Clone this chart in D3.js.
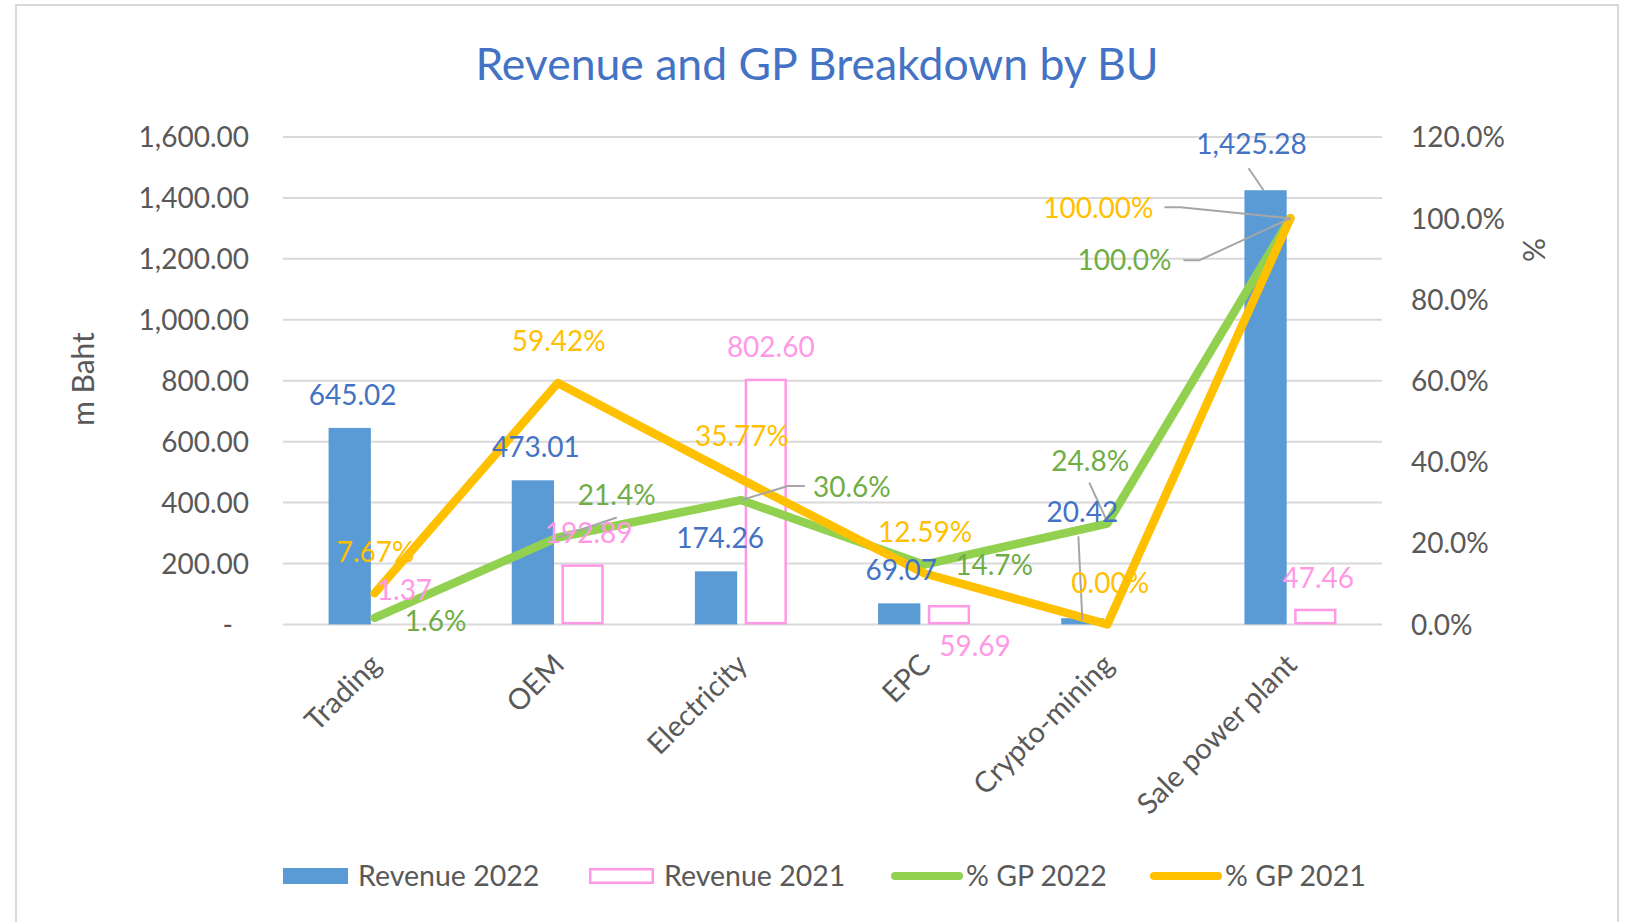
<!DOCTYPE html>
<html>
<head>
<meta charset="utf-8">
<script src="https://cdn.jsdelivr.net/npm/d3@7"></script>
<style>
  html, body { margin: 0; padding: 0; background: #ffffff; }
  svg { display: block; }
  text { font-family: Lato, "Open Sans", sans-serif; }
</style>
</head>
<body>
<svg id="chart" width="1629" height="922"></svg>
<script>
// ---------------- data ----------------
const categories = ["Trading", "OEM", "Electricity", "EPC", "Crypto-mining", "Sale power plant"];
const revenue2022 = [645.02, 473.01, 174.26, 69.07, 20.42, 1425.28];
const revenue2021 = [1.37, 192.89, 802.60, 59.69, null, 47.46];
const gp2022 = [1.6, 21.4, 30.6, 14.7, 24.8, 100.0];
const gp2021 = [7.67, 59.42, 35.77, 12.59, 0.00, 100.00];
const leftTicks = [0, 200, 400, 600, 800, 1000, 1200, 1400, 1600];
const rightTicks = [0, 20, 40, 60, 80, 100, 120];
const seriesNames = ["Revenue 2022", "Revenue 2021", "% GP 2022", "% GP 2021"];
const titleText = "Revenue and GP Breakdown by BU";

// ---------------- layout / style ----------------
const W = 1629, H = 922;
const plot = { left: 283, right: 1382, top: 137, bottom: 624.4 };
const C = {
  blue: "#5B9BD5", blueText: "#4472C4", pink: "#FF99E6", pinkText: "#FF99E6",
  green: "#92D050", greenText: "#70AD47", orange: "#FFC000", orangeText: "#FFC000",
  axis: "#595959", grid: "#D9D9D9", leader: "#A6A6A6", title: "#4472C4"
};
// label offsets (label centre relative to the mark anchor)
const lblR22 = [[3,-33],[3,-33],[4,-33],[2,-33],[0,-106],[-14,-46]];
const lblR21 = [[5,-34],[6,-32],[5,-33],[26,40],[0,0],[3,-32]];
const lblG22 = [[61,3],[59,-42],[111,-13],[70,1],[-17,-62],[-166,42]];
const lblG21 = [[1,-41],[1,-42],[1,-43],[1,-41],[3,-41],[-192,-10]];

const svg = d3.select("#chart");

// frame
svg.append("rect").attr("x", 16).attr("y", 5).attr("width", 1602).attr("height", 940)
  .attr("fill", "#fff").attr("stroke", "#D9D9D9").attr("stroke-width", 2);

// scales
const x = d3.scaleBand().domain(categories).range([plot.left, plot.right]).paddingInner(0).paddingOuter(0);
const xSub = d3.scaleBand().domain(["r22", "r21"]).range([-46, 46]).paddingInner(0.15).paddingOuter(0);
const yL = d3.scaleLinear().domain([0, 1600]).range([plot.bottom, plot.top]);
const yR = d3.scaleLinear().domain([0, 120]).range([plot.bottom, plot.top]);
const cx = c => x(c) + x.bandwidth() / 2;

// gridlines
svg.append("g").selectAll("line").data(leftTicks).join("line")
  .attr("x1", plot.left).attr("x2", plot.right)
  .attr("y1", d => yL(d)).attr("y2", d => yL(d))
  .attr("stroke", C.grid).attr("stroke-width", 2);

// left axis
const fmtL = d => d === 0 ? "-" : d3.format(",.2f")(d);
const leftAxis = d3.axisLeft(yL).tickValues(leftTicks).tickFormat(fmtL).tickSize(0).tickPadding(0);
const gL = svg.append("g").attr("transform", `translate(249,0)`).call(leftAxis);
gL.select(".domain").remove();
gL.selectAll("text").attr("font-size", 28).attr("fill", C.axis).attr("dy", "0.35em")
  .attr("font-family", "Lato, sans-serif")
  .attr("dx", d => d === 0 ? -16 : 0);

// right axis
const rightAxis = d3.axisRight(yR).tickValues(rightTicks).tickFormat(d => d.toFixed(1) + "%").tickSize(0).tickPadding(0);
const gR = svg.append("g").attr("transform", `translate(1411,0)`).call(rightAxis);
gR.select(".domain").remove();
gR.selectAll("text").attr("font-size", 28).attr("fill", C.axis).attr("dy", "0.35em")
  .attr("font-family", "Lato, sans-serif");

// category axis
const gX = svg.append("g");
gX.selectAll("text").data(categories).join("text")
  .attr("transform", d => `translate(${cx(d) + 1},${plot.bottom + 35}) rotate(-45)`)
  .attr("text-anchor", "end").attr("dy", "0.35em")
  .attr("font-size", 29).attr("fill", C.axis)
  .text(d => d);

// axis titles
svg.append("text").attr("transform", "translate(83,379) rotate(-90)")
  .attr("text-anchor", "middle").attr("dy", "0.35em")
  .attr("font-size", 30).attr("fill", C.axis).text("m Baht");
svg.append("text").attr("transform", "translate(1533,250) rotate(90)")
  .attr("text-anchor", "middle").attr("dy", "0.35em")
  .attr("font-size", 30).attr("fill", C.axis).text("%");

// title
svg.append("text").attr("x", 817).attr("y", 64).attr("text-anchor", "middle").attr("dy", "0.35em")
  .attr("font-size", 44.5).attr("fill", C.title).text(titleText);

// bars
const gBars = svg.append("g");
gBars.selectAll("rect.r22").data(categories).join("rect").attr("class", "r22")
  .attr("x", (c) => cx(c) + xSub("r22"))
  .attr("width", xSub.bandwidth())
  .attr("y", (c, i) => yL(revenue2022[i]))
  .attr("height", (c, i) => yL(0) - yL(revenue2022[i]))
  .attr("fill", C.blue);
gBars.selectAll("rect.r21").data(categories.filter((c, i) => revenue2021[i] != null)).join("rect").attr("class", "r21")
  .attr("x", c => cx(c) + xSub("r21") + 1.25)
  .attr("width", xSub.bandwidth() - 2.5)
  .attr("y", c => yL(revenue2021[categories.indexOf(c)]))
  .attr("height", c => Math.max(0, yL(0) - yL(revenue2021[categories.indexOf(c)]) - 1.25))
  .attr("fill", "#fff").attr("stroke", C.pink).attr("stroke-width", 2.5);

// lines
const lineGen = vals => d3.line().x((c) => cx(c)).y((c, i) => yR(vals[i]))(categories);
svg.append("path").attr("d", lineGen(gp2022)).attr("fill", "none")
  .attr("stroke", C.green).attr("stroke-width", 8.5).attr("stroke-linejoin", "round").attr("stroke-linecap", "round");
svg.append("path").attr("d", lineGen(gp2021)).attr("fill", "none")
  .attr("stroke", C.orange).attr("stroke-width", 8.5).attr("stroke-linejoin", "round").attr("stroke-linecap", "round");

// anchors
const aR22 = i => [cx(categories[i]) + xSub("r22") + xSub.bandwidth() / 2, yL(revenue2022[i])];
const aR21 = i => [cx(categories[i]) + xSub("r21") + xSub.bandwidth() / 2, yL(revenue2021[i] || 0)];
const aG22 = i => [cx(categories[i]), yR(gp2022[i])];
const aG21 = i => [cx(categories[i]), yR(gp2021[i])];

// leader lines
const gLead = svg.append("g");
function leader(anchor, off, pts, endAdj) {
  const lx = anchor[0] + off[0], ly = anchor[1] + off[1];
  const p = pts.map(q => [lx + q[0], ly + q[1]]);
  p.push([anchor[0] + (endAdj ? endAdj[0] : 0), anchor[1] + (endAdj ? endAdj[1] : 0)]);
  gLead.append("path").attr("d", d3.line()(p)).attr("fill", "none")
    .attr("stroke", C.leader).attr("stroke-width", 2);
}
leader(aR22(4), lblR22[4], [[-4, 24]], [0, 2]);
leader(aR22(5), lblR22[5], [[-3, 24]], [-2, 0]);
leader(aG22(1), lblG22[1], [[0, 22]], [0, 0]);
leader(aG22(2), lblG22[2], [[-47, -1], [-64, -1]], [0, 0]);
leader(aG22(4), lblG22[4], [[-1, 21]], [0, -2]);
leader(aG22(5), lblG22[5], [[59, 0], [75, 0]], [0, 0]);
leader(aG21(5), lblG21[5], [[66, -1], [82, -1]], [0, 0]);

// data labels
function labels(cls, vals, anchorFn, offs, fmt, color) {
  svg.append("g").selectAll("text").data(vals.map((v, i) => ({ v, i })).filter(d => d.v != null)).join("text")
    .attr("x", d => anchorFn(d.i)[0] + offs[d.i][0])
    .attr("y", d => anchorFn(d.i)[1] + offs[d.i][1])
    .attr("text-anchor", "middle").attr("dy", "0.35em")
    .attr("font-size", 28).attr("fill", color)
    .text(d => fmt(d.v));
}
labels("r22", revenue2022, aR22, lblR22, d3.format(",.2f"), C.blueText);
labels("r21", revenue2021, aR21, lblR21, d3.format(",.2f"), C.pinkText);
labels("g22", gp2022, aG22, lblG22, v => v.toFixed(1) + "%", C.greenText);
labels("g21", gp2021, aG21, lblG21, v => v.toFixed(2) + "%", C.orangeText);

// legend
const legendItems = [
  { name: seriesNames[0], type: "fill", x: 283 },
  { name: seriesNames[1], type: "outline", x: 589 },
  { name: seriesNames[2], type: "line", color: C.green, x: 891 },
  { name: seriesNames[3], type: "line", color: C.orange, x: 1150 }
];
const gLeg = svg.append("g");
const ly = 876;
legendItems.forEach(it => {
  if (it.type === "fill") {
    gLeg.append("rect").attr("x", it.x).attr("y", ly - 8).attr("width", 65).attr("height", 16).attr("fill", C.blue);
  } else if (it.type === "outline") {
    gLeg.append("rect").attr("x", it.x + 1.25).attr("y", ly - 6.75).attr("width", 62.5).attr("height", 13.5)
      .attr("fill", "#fff").attr("stroke", C.pink).attr("stroke-width", 2.5);
  } else {
    gLeg.append("line").attr("x1", it.x + 4).attr("x2", it.x + 68).attr("y1", ly).attr("y2", ly)
      .attr("stroke", it.color).attr("stroke-width", 8).attr("stroke-linecap", "round");
  }
  gLeg.append("text").attr("x", it.x + 75).attr("y", ly).attr("dy", "0.35em")
    .attr("font-size", 28.5).attr("fill", C.axis).text(it.name);
});
</script>
</body>
</html>
